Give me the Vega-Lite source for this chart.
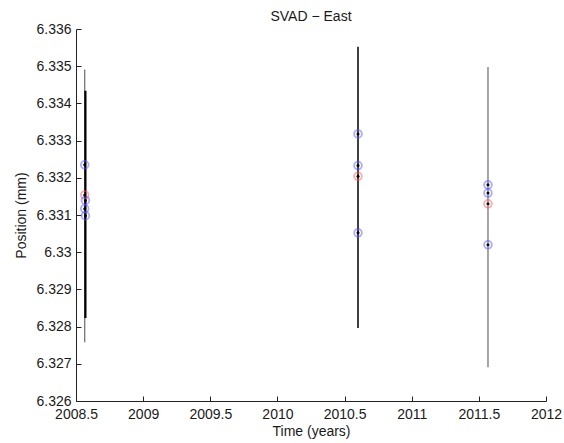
{
  "$schema": "https://vega.github.io/schema/vega-lite/v6.json",
  "width": 470,
  "height": 372,
  "autosize": "none",
  "padding": {"left": 76, "top": 29, "right": 18, "bottom": 42},
  "background": "white",
  "title": {"text": "SVAD − East", "font": "Liberation Sans", "fontSize": 14, "fontWeight": "normal", "color": "#1a1a1a", "offset": -2},
  "config": {
    "view": {"stroke": null},
    "axis": {
      "domainColor": "#222222",
      "tickColor": "#222222",
      "tickSize": -5,
      "labelFont": "Liberation Sans",
      "labelFontSize": 14,
      "labelColor": "#1a1a1a",
      "titleFont": "Liberation Sans",
      "titleFontSize": 14,
      "titleFontWeight": "normal",
      "titleColor": "#1a1a1a",
      "grid": false
    }
  },
  "resolve": {"scale": {"color": "independent", "strokeWidth": "independent"}},
  "datasets": {
    "bars": [
      {"year": 2008.565, "lo": 6.32758, "hi": 6.33491, "kind": "outer"},
      {"year": 2008.57, "lo": 6.32823, "hi": 6.33434, "kind": "inner"},
      {"year": 2010.60, "lo": 6.32796, "hi": 6.33552, "kind": "main"},
      {"year": 2011.568, "lo": 6.32691, "hi": 6.33498, "kind": "outer"}
    ],
    "pts": [
      {"year": 2008.565, "pos": 6.33235, "type": "blue"},
      {"year": 2008.565, "pos": 6.33154, "type": "red"},
      {"year": 2008.57, "pos": 6.33139, "type": "blue"},
      {"year": 2008.565, "pos": 6.33117, "type": "blue"},
      {"year": 2008.57, "pos": 6.33098, "type": "blue"},
      {"year": 2010.60, "pos": 6.33318, "type": "blue"},
      {"year": 2010.60, "pos": 6.33233, "type": "blue"},
      {"year": 2010.60, "pos": 6.33204, "type": "red"},
      {"year": 2010.60, "pos": 6.33052, "type": "blue"},
      {"year": 2011.568, "pos": 6.33181, "type": "blue"},
      {"year": 2011.568, "pos": 6.33159, "type": "blue"},
      {"year": 2011.568, "pos": 6.33130, "type": "red"},
      {"year": 2011.568, "pos": 6.33020, "type": "blue"}
    ]
  },
  "encoding": {
    "x": {
      "field": "year", "type": "quantitative",
      "scale": {"domain": [2008.5, 2012], "nice": false, "zero": false},
      "axis": {"title": "Time (years)", "values": [2008.5, 2009, 2009.5, 2010, 2010.5, 2011, 2011.5, 2012], "format": "~g", "labelPadding": 11, "titlePadding": 3, "labelFlush": false, "labelOverlap": false}
    }
  },
  "layer": [
    {
      "data": {"name": "bars"},
      "mark": {"type": "rule"},
      "encoding": {
        "y": {
          "field": "lo", "type": "quantitative",
          "scale": {"domain": [6.326, 6.336], "nice": false, "zero": false},
          "axis": {"title": "Position (mm)", "values": [6.326, 6.327, 6.328, 6.329, 6.33, 6.331, 6.332, 6.333, 6.334, 6.335, 6.336], "format": "~g", "labelPadding": 10, "titlePadding": 7, "labelFlush": false, "labelOverlap": false}
        },
        "y2": {"field": "hi"},
        "color": {"field": "kind", "type": "nominal", "scale": {"domain": ["outer", "inner", "main"], "range": ["#6a6a6a", "#000000", "#000000"]}, "legend": null},
        "strokeWidth": {"field": "kind", "type": "nominal", "scale": {"type": "ordinal", "domain": ["outer", "inner", "main"], "range": [1.2, 2.2, 1.5]}, "legend": null}
      }
    },
    {
      "data": {"name": "pts"},
      "mark": {"type": "point", "shape": "circle", "filled": false, "size": 60, "strokeWidth": 1.8, "opacity": 0.5},
      "encoding": {
        "y": {
          "field": "pos", "type": "quantitative",
          "scale": {"domain": [6.326, 6.336], "nice": false, "zero": false},
          "axis": {"title": "Position (mm)", "values": [6.326, 6.327, 6.328, 6.329, 6.33, 6.331, 6.332, 6.333, 6.334, 6.335, 6.336], "format": "~g", "labelPadding": 10, "titlePadding": 7, "labelFlush": false, "labelOverlap": false}
        },
        "color": {"field": "type", "type": "nominal", "scale": {"domain": ["blue", "red"], "range": ["#5a5aff", "#ff5a5a"]}, "legend": null}
      }
    },
    {
      "data": {"name": "pts"},
      "mark": {"type": "circle", "size": 9, "color": "#000000", "opacity": 1},
      "encoding": {
        "y": {
          "field": "pos", "type": "quantitative",
          "scale": {"domain": [6.326, 6.336], "nice": false, "zero": false},
          "axis": {"title": "Position (mm)", "values": [6.326, 6.327, 6.328, 6.329, 6.33, 6.331, 6.332, 6.333, 6.334, 6.335, 6.336], "format": "~g", "labelPadding": 10, "titlePadding": 7, "labelFlush": false, "labelOverlap": false}
        }
      }
    }
  ]
}
